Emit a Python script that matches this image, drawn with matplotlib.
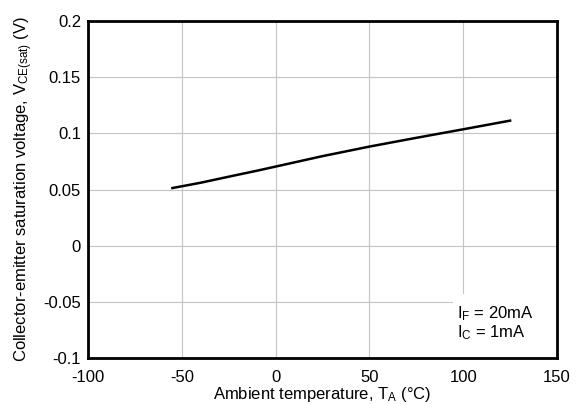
import matplotlib
matplotlib.use("Agg")
import matplotlib.pyplot as plt
from matplotlib.patches import Rectangle

# VCE(sat) vs ambient temperature, IF = 20 mA, IC = 1 mA
temp_c = [-55, -40, -25, -10, 0, 25, 50, 75, 100, 125]
vce_sat = [0.0513, 0.0560, 0.0614, 0.0667, 0.0704, 0.0797, 0.0882,
           0.0960, 0.1036, 0.1113]

x_ticks = [-100, -50, 0, 50, 100, 150]
y_ticks = [-0.1, -0.05, 0, 0.05, 0.1, 0.15, 0.2]
y_tick_labels = ["-0.1", "-0.05", "0", "0.05", "0.1", "0.15", "0.2"]

plt.rcParams.update({
    "font.family": ["Liberation Sans", "DejaVu Sans"],
    "font.size": 12,
    "mathtext.fontset": "custom",
    "mathtext.rm": "Liberation Sans",
    "mathtext.it": "Liberation Sans",
})

W, H = 579, 404
fig = plt.figure(figsize=(W / 100, H / 100), dpi=100)
ax = fig.add_axes([88 / W, (H - 358) / H, (557 - 88) / W, (358 - 21) / H])

ax.plot(temp_c, vce_sat, color="black", lw=1.8, zorder=3,
        solid_joinstyle="round")

ax.set_xlim(-100, 150)
ax.set_ylim(-0.1, 0.2)
ax.set_xticks(x_ticks)
ax.set_xticklabels([str(t) for t in x_ticks])
ax.set_yticks(y_ticks)
ax.set_yticklabels(y_tick_labels)
ax.tick_params(axis="both", length=0, labelsize=12)
ax.tick_params(axis="x", pad=9)
ax.tick_params(axis="y", pad=5)
ax.grid(True, color="#c4c4c4", lw=0.8, zorder=0)
for sp in ax.spines.values():
    sp.set_linewidth(2.0)
    sp.set_color("black")
    sp.set_zorder(5)

ax.set_xlabel(r"Ambient temperature, T$_{\mathrm{A}}$ (°C)", fontsize=12, labelpad=0)
ax.set_ylabel(r"Collector-emitter saturation voltage, V$_{\mathrm{CE(sat)}}$ (V)",
              fontsize=12, labelpad=6)

# white legend area masking the grid in the lower-right corner
ax.add_patch(Rectangle((0.778, 0.0), 0.222, 0.19, transform=ax.transAxes,
                       facecolor="white", edgecolor="none", zorder=2))
ax.text(0.787, 0.062, "I$_{\\mathrm{F}}$ = 20mA\nI$_{\\mathrm{C}}$ = 1mA",
        transform=ax.transAxes, ha="left", va="baseline", fontsize=12,
        linespacing=1.0, zorder=4)

fig.savefig("out.png", dpi=100)
